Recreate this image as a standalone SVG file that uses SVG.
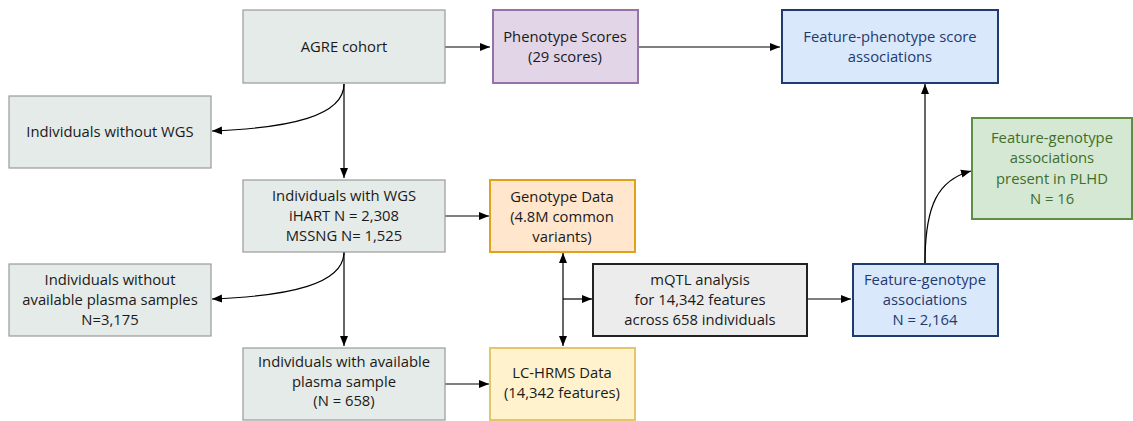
<svg xmlns="http://www.w3.org/2000/svg" width="1133" height="421" viewBox="0 0 1133 421">
<defs>
<style>
text{font-family:"Open Sans","Noto Sans","Liberation Sans",sans-serif;font-size:14.8px;text-anchor:middle;fill:#1a1a1a}
.gray rect{fill:#e5ebe8;stroke:#9a9a9a;stroke-width:1.2}
.purple rect{fill:#e1d5e7;stroke:#9673a6;stroke-width:2}
.blue rect{fill:#dae8fc;stroke:#1f3a6e;stroke-width:2}
.blue text{fill:#1f3a6e}
.green rect{fill:#d5e8d4;stroke:#5e8f45;stroke-width:2}
.green text{fill:#3f6e2a}
.orange rect{fill:#ffe6cc;stroke:#e0a21a;stroke-width:2}
.yellow rect{fill:#fff2cc;stroke:#e5c56a;stroke-width:2}
.dark rect{fill:#ececec;stroke:#222;stroke-width:2}
.conn path{fill:none;stroke:#000;stroke-width:1.2}
</style>
<marker id="ah" viewBox="0 0 10 10" refX="10" refY="5" markerWidth="10" markerHeight="10" markerUnits="userSpaceOnUse" orient="auto-start-reverse">
<path d="M0,1 L10,5 L0,9 Z" fill="#000"/>
</marker>
</defs>

<g id="conns" class="conn">
<path d="M445,47 L490,47" marker-end="url(#ah)"/>
<path d="M638,47 L780,47" marker-end="url(#ah)"/>
<path d="M344,84 L344,178" marker-end="url(#ah)"/>
<path d="M344,84 C344,116 290,128 212,131" marker-end="url(#ah)"/>
<path d="M344,252 L344,346" marker-end="url(#ah)"/>
<path d="M344,252 C344,284 290,296 212,299" marker-end="url(#ah)"/>
<path d="M445,216 L489,216" marker-end="url(#ah)"/>
<path d="M445,384 L489,384" marker-end="url(#ah)"/>
<path d="M563,253 L563,346" marker-start="url(#ah)" marker-end="url(#ah)"/>
<path d="M563,299 L592,299" marker-end="url(#ah)"/>
<path d="M808,299 L851,299" stroke="#777" marker-end="url(#ah)"/>
<path d="M925,263 L925,84" marker-end="url(#ah)"/>
<path d="M925,263 C925,205 938,180 971,171" marker-end="url(#ah)"/>
</g>

<g id="agre" class="gray"><rect x="243" y="10" width="202" height="73"/><text x="344" y="52">AGRE cohort</text></g>
<g id="pheno" class="purple"><rect x="493" y="10" width="145" height="73"/><text x="565" y="42">Phenotype Scores</text><text x="565" y="62">(29 scores)</text></g>
<g id="fpa" class="blue"><rect x="782" y="10" width="216" height="73"/><text x="890" y="42">Feature-phenotype score</text><text x="890" y="62">associations</text></g>
<g id="nowgs" class="gray"><rect x="9" y="96" width="202" height="72"/><text x="110" y="137">Individuals without WGS</text></g>
<g id="wgs" class="gray"><rect x="243" y="180" width="202" height="72"/><text x="344" y="201">Individuals with WGS</text><text x="344" y="221">iHART N = 2,308</text><text x="344" y="241">MSSNG N= 1,525</text></g>
<g id="geno" class="orange"><rect x="490" y="180" width="145" height="72"/><text x="562" y="202">Genotype Data</text><text x="562" y="222">(4.8M common</text><text x="562" y="242">variants)</text></g>
<g id="green" class="green"><rect x="972" y="118" width="160" height="101"/><text x="1052" y="143">Feature-genotype</text><text x="1052" y="163">associations</text><text x="1052" y="184">present in PLHD</text><text x="1052" y="204">N = 16</text></g>
<g id="noplasma" class="gray"><rect x="9" y="264" width="202" height="72"/><text x="110" y="285">Individuals without</text><text x="110" y="305">available plasma samples</text><text x="110" y="325">N=3,175</text></g>
<g id="mqtl" class="dark"><rect x="593" y="264" width="214" height="72"/><text x="700" y="285">mQTL analysis</text><text x="700" y="305">for 14,342 features</text><text x="700" y="325">across 658 individuals</text></g>
<g id="fga" class="blue"><rect x="853" y="264" width="145" height="72"/><text x="925" y="285">Feature-genotype</text><text x="925" y="305">associations</text><text x="925" y="325">N = 2,164</text></g>
<g id="plasma" class="gray"><rect x="243" y="348" width="202" height="72"/><text x="344" y="367">Individuals with available</text><text x="344" y="387">plasma sample</text><text x="344" y="406">(N = 658)</text></g>
<g id="lchrms" class="yellow"><rect x="490" y="348" width="145" height="72"/><text x="562" y="378">LC-HRMS Data</text><text x="562" y="398">(14,342 features)</text></g>
</svg>
